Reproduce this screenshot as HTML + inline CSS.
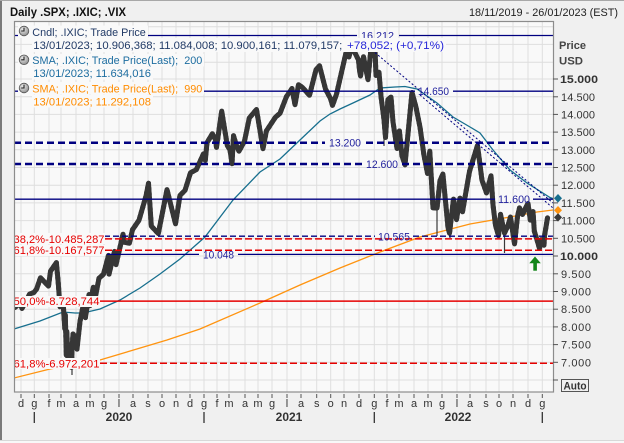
<!DOCTYPE html>
<html><head><meta charset="utf-8"><style>
html,body{margin:0;padding:0;background:#f0f0f0;}
svg{display:block;font-family:"Liberation Sans",sans-serif;}
text{white-space:pre;}
</style></head><body>
<svg width="624" height="443" viewBox="0 0 624 443" xmlns="http://www.w3.org/2000/svg">
<defs>
<clipPath id="pc"><rect x="15" y="22" width="538" height="370"/></clipPath>
<radialGradient id="ig" cx="0.4" cy="0.35" r="0.7"><stop offset="0" stop-color="#eeeeee"/><stop offset="1" stop-color="#8a8a8a"/></radialGradient>
</defs>
<rect x="0" y="0" width="624" height="443" fill="#f0f0f0"/>
<rect x="0" y="440" width="624" height="3" fill="#f8f8f8"/>
<line x1="0" y1="440.5" x2="624" y2="440.5" stroke="#d8d8d8"/>
<line x1="1" y1="0" x2="1" y2="440" stroke="#7a7a7a" stroke-width="2"/>
<line x1="0" y1="0.5" x2="624" y2="0.5" stroke="#a8a8a8"/>

<text x="10" y="16" font-size="11.5" font-weight="bold" fill="#111" textLength="116" lengthAdjust="spacingAndGlyphs">Daily .SPX; .IXIC; .VIX</text>
<text x="469" y="16" font-size="11" fill="#222" textLength="149" lengthAdjust="spacingAndGlyphs">18/11/2019 - 26/01/2023 (EST)</text>

<rect x="14.5" y="21.5" width="539" height="370.5" fill="#f9f9f9"/>

<g clip-path="url(#pc)">
<g stroke="#dedede" stroke-width="1">
<line x1="21" y1="22" x2="21" y2="392"/><line x1="34.3" y1="22" x2="34.3" y2="392"/><line x1="49" y1="22" x2="49" y2="392"/><line x1="61" y1="22" x2="61" y2="392"/><line x1="76" y1="22" x2="76" y2="392"/><line x1="90" y1="22" x2="90" y2="392"/><line x1="104" y1="22" x2="104" y2="392"/><line x1="119" y1="22" x2="119" y2="392"/><line x1="133" y1="22" x2="133" y2="392"/><line x1="148" y1="22" x2="148" y2="392"/><line x1="162" y1="22" x2="162" y2="392"/><line x1="176" y1="22" x2="176" y2="392"/><line x1="190" y1="22" x2="190" y2="392"/><line x1="204" y1="22" x2="204" y2="392"/><line x1="217" y1="22" x2="217" y2="392"/><line x1="229" y1="22" x2="229" y2="392"/><line x1="245" y1="22" x2="245" y2="392"/><line x1="258" y1="22" x2="258" y2="392"/><line x1="272" y1="22" x2="272" y2="392"/><line x1="287" y1="22" x2="287" y2="392"/><line x1="301" y1="22" x2="301" y2="392"/><line x1="316.7" y1="22" x2="316.7" y2="392"/><line x1="330.7" y1="22" x2="330.7" y2="392"/><line x1="344" y1="22" x2="344" y2="392"/><line x1="359" y1="22" x2="359" y2="392"/><line x1="374.3" y1="22" x2="374.3" y2="392"/><line x1="387" y1="22" x2="387" y2="392"/><line x1="399" y1="22" x2="399" y2="392"/><line x1="414" y1="22" x2="414" y2="392"/><line x1="428" y1="22" x2="428" y2="392"/><line x1="442" y1="22" x2="442" y2="392"/><line x1="457" y1="22" x2="457" y2="392"/><line x1="470" y1="22" x2="470" y2="392"/><line x1="486" y1="22" x2="486" y2="392"/><line x1="499" y1="22" x2="499" y2="392"/><line x1="513" y1="22" x2="513" y2="392"/><line x1="528" y1="22" x2="528" y2="392"/><line x1="542.3" y1="22" x2="542.3" y2="392"/>
<line x1="15" y1="26.8" x2="553" y2="26.8"/><line x1="15" y1="44.4" x2="553" y2="44.4"/><line x1="15" y1="62.2" x2="553" y2="62.2"/><line x1="15" y1="79" x2="553" y2="79"/><line x1="15" y1="96.8" x2="553" y2="96.8"/><line x1="15" y1="114.4" x2="553" y2="114.4"/><line x1="15" y1="132.1" x2="553" y2="132.1"/><line x1="15" y1="149.8" x2="553" y2="149.8"/><line x1="15" y1="167.5" x2="553" y2="167.5"/><line x1="15" y1="185.2" x2="553" y2="185.2"/><line x1="15" y1="202.9" x2="553" y2="202.9"/><line x1="15" y1="220.6" x2="553" y2="220.6"/><line x1="15" y1="238.3" x2="553" y2="238.3"/><line x1="15" y1="256" x2="553" y2="256"/><line x1="15" y1="273.8" x2="553" y2="273.8"/><line x1="15" y1="291.5" x2="553" y2="291.5"/><line x1="15" y1="309.2" x2="553" y2="309.2"/><line x1="15" y1="326.9" x2="553" y2="326.9"/><line x1="15" y1="344.6" x2="553" y2="344.6"/><line x1="15" y1="362.3" x2="553" y2="362.3"/><line x1="15" y1="380" x2="553" y2="380"/>
</g>

<!-- SMA 990 -->
<polyline fill="none" stroke="#ff9410" stroke-width="1.3" points="14,378 50,369 100,360 167,340 200,329 260,303 300,285 340,268 380,252 420,237 470,224 510,217 537,212 553,210"/>
<!-- SMA 200 -->
<polyline fill="none" stroke="#176f8e" stroke-width="1.3" points="14,329 40,321 63,312 75,313 83,313 100,309 120,300 140,288 160,274 180,259 205,237 233,200 260,172 280,159 300,140 320,121 330,114 340,109 353,103 370,95 380,88 395,87 405,86.5 417,89 437,103 453,117 470,127 480,133 493,150 510,170 527,183 550,197.5 553,198.5"/>

<!-- candles approximation -->
<polyline id="px" fill="none" stroke="#363636" stroke-width="5" stroke-linejoin="round" stroke-linecap="round" points="15,307.4 18.7,304 21.5,306.8 22,308.4 26,301.5 29.6,294.1 34,292.4 36.6,289 40.5,277.7 43,280.4 48.5,286.1 50.5,271.2 56.4,262.6 58.3,283.7 60,306.8 62,302.7 63.4,306.5 64.8,328.7 65.3,314.7 66.3,355.2 66.8,331.3 68.3,365.7 69.3,362.7 70.2,366.6 71.6,367.3 72.1,347.5 73,334 75.5,337.5 77,349.1 80,321.5 83.5,303.9 85.4,317.6 89,294.5 90,305.5 93.3,287.2 95.5,296.3 99,278.2 103.5,274.2 108.5,255.4 109,274.1 114.5,251.4 116,264.7 123,234.2 124.4,242.3 129.4,243.2 132.5,229.7 139,220.2 146,196 148.5,183.3 151.3,226.1 158.3,233.6 167,189.6 175.5,223.8 180,195.4 185,190.4 190.5,172.7 196.3,169.7 203.5,153.8 205.3,160.5 207,142.7 212.4,133.7 215.6,140.2 216.5,147.4 221.7,111.1 227.3,145.6 230,149.9 232,163.7 233.5,135.7 236.5,145.7 239,151.2 244.5,141.1 249.3,118 256.5,109.5 263,148.7 266.4,130.9 275.5,117.1 280,113.3 286.5,96.5 292,88.5 295,104.7 298.5,84.7 302.5,87.5 309.5,95.3 316,69.8 319.5,65.8 325.5,89.1 330.5,98.6 332.5,105.4 336.5,94.2 344,61.4 348,44.2 349,57 352.5,41.6 353,48.8 358.5,60 359.5,70 360.5,76 363.5,56.7 368,79.7 371,48.1 374,56.1 375,49.5 376,75.4 379,72.3 381,96.4 384,119.5 385.5,137.4 387.9,99.6 391,97.1 393,121.9 397,148.5 399.4,131 402,155.9 405,164.7 412,92.5 416,107.2 420,127.1 424,155.5 427.5,173.4 429.8,151.1 433,207.8 437,208.1 440,180.6 442.9,174 448,227.4 449.5,233.2 453.5,199.1 456.5,219.6 460,198.2 462.5,211.8 469.5,171.4 477.5,145.3 482,180.3 486.5,192.9 491,175.8 493,204.8 495.5,225.3 498.5,235.7 500.5,214.4 504.5,233.1 508,225.6 510.5,217 514.5,243.9 517.5,216.5 519.5,207.9 522.5,214.5 527.5,204.1 528,203.6 530.3,220.1 533,211.6 534.3,231.1 536.8,239.2 539.5,248.5 541,239.6 543,242.4 544,245.3 544.5,235.9 547.5,217.9"/>
<use href="#px" stroke="#9a9a9a" stroke-width="0.8" stroke-dasharray="1.5,3.5" fill="none" style="stroke:#9a9a9a;stroke-width:0.8"/>
<g stroke="#3a3a3a" stroke-width="1.2">
<line x1="72" y1="355" x2="72" y2="375"/><line x1="384" y1="120" x2="384" y2="146"/><line x1="437" y1="205" x2="437" y2="236"/><line x1="504.5" y1="230" x2="504.5" y2="253"/><line x1="450" y1="230" x2="450" y2="238"/>
</g>

<!-- navy horizontal lines -->
<g stroke="#000080" stroke-width="1.3" fill="none">
<line x1="14" y1="35.5" x2="357" y2="35.5"/><line x1="399" y1="35.5" x2="553" y2="35.5"/>
<line x1="14" y1="91.2" x2="415" y2="91.2"/><line x1="453" y1="91.2" x2="553" y2="91.2"/>
<line x1="14" y1="199.2" x2="495" y2="199.2"/><line x1="533" y1="199.2" x2="553" y2="199.2"/>
<line x1="107" y1="254.4" x2="199" y2="254.4"/><line x1="238" y1="254.4" x2="553" y2="254.4"/>
</g>
<g stroke="#000080" stroke-width="2.5" stroke-dasharray="7,4" fill="none">
<line x1="14" y1="142.7" x2="325" y2="142.7"/><line x1="366" y1="142.7" x2="553" y2="142.7"/>
<line x1="14" y1="164" x2="362" y2="164"/><line x1="402" y1="164" x2="553" y2="164"/>
</g>
<g stroke="#000080" stroke-width="1.4" stroke-dasharray="6,3" fill="none">
<line x1="14" y1="236.2" x2="375" y2="236.2"/><line x1="413" y1="236.2" x2="553" y2="236.2"/>
</g>
<!-- trend dotted lines -->
<g stroke="#000080" stroke-width="1" stroke-dasharray="2,2" fill="none">
<line x1="372" y1="50" x2="553" y2="203"/>
<line x1="420" y1="95" x2="553" y2="208"/>
</g>

<!-- red fib lines -->
<g stroke="#e60000" stroke-width="1.5" fill="none">
<line x1="105" y1="238.9" x2="553" y2="238.9" stroke-dasharray="7,3"/>
<line x1="105" y1="250.3" x2="553" y2="250.3" stroke-dasharray="7,3"/>
<line x1="100" y1="301.1" x2="553" y2="301.1"/>
<line x1="100" y1="363.2" x2="553" y2="363.2" stroke-dasharray="7,3"/>
</g>
<g fill="#f9f9f9">
<rect x="14" y="233" width="91" height="11"/>
<rect x="14" y="245" width="91" height="11"/>
<rect x="14" y="296" width="86" height="11"/>
<rect x="14" y="358" width="86" height="11"/>
</g>
<g fill="#e60000" font-size="11">
<text x="13.5" y="242.8" textLength="91" lengthAdjust="spacingAndGlyphs">38,2%-10.485,287</text>
<text x="13.5" y="254.2" textLength="91" lengthAdjust="spacingAndGlyphs">61,8%-10.167,577</text>
<text x="13.5" y="305.2" textLength="86" lengthAdjust="spacingAndGlyphs">50,0%-8.728,744</text>
<text x="13.5" y="367.5" textLength="86" lengthAdjust="spacingAndGlyphs">61,8%-6.972,201</text>
</g>

<!-- navy labels -->
<g fill="#1f1f9c" font-size="11">
<text x="361" y="39.5" textLength="33" lengthAdjust="spacingAndGlyphs">16.212</text>
<text x="418" y="95.2" textLength="31" lengthAdjust="spacingAndGlyphs">14.650</text>
<text x="329" y="146.7" textLength="32" lengthAdjust="spacingAndGlyphs">13.200</text>
<text x="366" y="168" textLength="32" lengthAdjust="spacingAndGlyphs">12.600</text>
<text x="498" y="203.2" textLength="32" lengthAdjust="spacingAndGlyphs">11.600</text>
<text x="378" y="240.5" textLength="32" lengthAdjust="spacingAndGlyphs">10.565</text>
<text x="203" y="258.5" textLength="31" lengthAdjust="spacingAndGlyphs">10.048</text>
</g>

<!-- legend -->
<g fill="#f9f9f9">
<rect x="18" y="25.5" width="130" height="12.5"/>
<rect x="32" y="38" width="414" height="14"/>
<rect x="18" y="54" width="186" height="12.5"/>
<rect x="32" y="67" width="121" height="12.5"/>
<rect x="18" y="82" width="186" height="12.5"/>
<rect x="32" y="95" width="121" height="12.5"/>
</g>
<g stroke="#555" stroke-width="0.8">
<circle cx="24" cy="31" r="4.8" fill="url(#ig)"/>
<circle cx="24" cy="59.8" r="4.8" fill="url(#ig)"/>
<circle cx="24" cy="88" r="4.8" fill="url(#ig)"/>
</g>
<g stroke="#222" stroke-width="1.1" fill="none">
<path d="M24,27.8 V31 H21.2"/><path d="M24,56.6 V59.8 H21.2"/><path d="M24,84.8 V88 H21.2"/>
</g>
<g font-size="11">
<text x="32.3" y="36" fill="#213a66" textLength="113.5" lengthAdjust="spacingAndGlyphs">Cndl; .IXIC; Trade Price</text>
<text x="33.3" y="49" fill="#213a66" textLength="309" lengthAdjust="spacingAndGlyphs">13/01/2023; 10.906,368; 11.084,008; 10.900,161; 11.079,157;</text>
<text x="347" y="49" fill="#2525d8" textLength="97" lengthAdjust="spacingAndGlyphs">+78,052; (+0,71%)</text>
<text x="32.3" y="64" fill="#1d6da0" textLength="170" lengthAdjust="spacingAndGlyphs">SMA; .IXIC; Trade Price(Last);  200</text>
<text x="33.3" y="77" fill="#1d6da0" textLength="117.7" lengthAdjust="spacingAndGlyphs">13/01/2023; 11.634,016</text>
<text x="32.3" y="92.5" fill="#ff8c00" textLength="170" lengthAdjust="spacingAndGlyphs">SMA; .IXIC; Trade Price(Last);  990</text>
<text x="33.3" y="105.5" fill="#ff8c00" textLength="117.7" lengthAdjust="spacingAndGlyphs">13/01/2023; 11.292,108</text>
</g>

<!-- green arrow -->
<rect x="533.3" y="262" width="3.6" height="8.7" fill="#13861a"/>
<polygon points="529.3,263.3 540.8,263.3 535,256.5" fill="#13861a"/>
</g>

<rect x="14.5" y="21.5" width="539" height="370.5" fill="none" stroke="#8c8c8c" stroke-width="1.2"/>

<!-- right axis -->
<g stroke="#555" stroke-width="1">
<line x1="553" y1="79" x2="558" y2="79"/><line x1="553" y1="96.8" x2="558" y2="96.8"/><line x1="553" y1="114.4" x2="558" y2="114.4"/><line x1="553" y1="132.1" x2="558" y2="132.1"/><line x1="553" y1="149.8" x2="558" y2="149.8"/><line x1="553" y1="167.5" x2="558" y2="167.5"/><line x1="553" y1="185.2" x2="558" y2="185.2"/><line x1="553" y1="202.9" x2="558" y2="202.9"/><line x1="553" y1="220.6" x2="558" y2="220.6"/><line x1="553" y1="238.3" x2="558" y2="238.3"/><line x1="553" y1="256" x2="558" y2="256"/><line x1="553" y1="273.8" x2="558" y2="273.8"/><line x1="553" y1="291.5" x2="558" y2="291.5"/><line x1="553" y1="309.2" x2="558" y2="309.2"/><line x1="553" y1="326.9" x2="558" y2="326.9"/><line x1="553" y1="344.6" x2="558" y2="344.6"/><line x1="553" y1="362.3" x2="558" y2="362.3"/><line x1="553" y1="380" x2="558" y2="380"/>
</g>
<g font-size="11" fill="#333">
<text x="559" y="49" font-weight="bold" fill="#444" textLength="27" lengthAdjust="spacingAndGlyphs">Price</text>
<text x="559" y="64.3" font-weight="bold" fill="#444" textLength="24" lengthAdjust="spacingAndGlyphs">USD</text>
<text x="560" y="83" font-weight="bold" textLength="38" lengthAdjust="spacingAndGlyphs">15.000</text>
<text x="561" y="100.8" textLength="34">14.500</text>
<text x="561" y="118.4" textLength="34">14.000</text>
<text x="561" y="136.1" textLength="34">13.500</text>
<text x="561" y="153.8" textLength="34">13.000</text>
<text x="561" y="171.5" textLength="34">12.500</text>
<text x="561" y="189.2" textLength="34">12.000</text>
<text x="561" y="206.9" textLength="34">11.500</text>
<text x="561" y="224.6" textLength="34">11.000</text>
<text x="561" y="242.3" textLength="34">10.500</text>
<text x="560" y="260" font-weight="bold" textLength="38" lengthAdjust="spacingAndGlyphs">10.000</text>
<text x="561" y="277.8" textLength="30">9.500</text>
<text x="561" y="295.5" textLength="30">9.000</text>
<text x="561" y="313.2" textLength="30">8.500</text>
<text x="561" y="330.9" textLength="30">8.000</text>
<text x="561" y="348.6" textLength="30">7.500</text>
<text x="561" y="366.3" textLength="30">7.000</text>
</g>
<rect x="561.5" y="379.5" width="27" height="12" fill="none" stroke="#555" stroke-width="1"/>
<text x="563.5" y="389.5" font-size="11" font-weight="bold" fill="#333" textLength="23" lengthAdjust="spacingAndGlyphs">Auto</text>

<!-- right markers -->
<polygon points="558,194 562,198.3 558,202.6 554,198.3" fill="#176f8e"/>
<polygon points="558,206 562,210.2 558,214.4 554,210.2" fill="#ff9410"/>
<polygon points="558,213.2 562,217.4 558,221.6 554,217.4" fill="#3a3a3a"/>

<!-- bottom axis -->
<g stroke="#555" stroke-width="1">
<line x1="21" y1="394" x2="21" y2="398"/><line x1="34.3" y1="394" x2="34.3" y2="398"/><line x1="49" y1="394" x2="49" y2="398"/><line x1="61" y1="394" x2="61" y2="398"/><line x1="76" y1="394" x2="76" y2="398"/><line x1="90" y1="394" x2="90" y2="398"/><line x1="104" y1="394" x2="104" y2="398"/><line x1="119" y1="394" x2="119" y2="398"/><line x1="133" y1="394" x2="133" y2="398"/><line x1="148" y1="394" x2="148" y2="398"/><line x1="162" y1="394" x2="162" y2="398"/><line x1="176" y1="394" x2="176" y2="398"/><line x1="190" y1="394" x2="190" y2="398"/><line x1="204" y1="394" x2="204" y2="398"/><line x1="217" y1="394" x2="217" y2="398"/><line x1="229" y1="394" x2="229" y2="398"/><line x1="245" y1="394" x2="245" y2="398"/><line x1="258" y1="394" x2="258" y2="398"/><line x1="272" y1="394" x2="272" y2="398"/><line x1="287" y1="394" x2="287" y2="398"/><line x1="301" y1="394" x2="301" y2="398"/><line x1="316.7" y1="394" x2="316.7" y2="398"/><line x1="330.7" y1="394" x2="330.7" y2="398"/><line x1="344" y1="394" x2="344" y2="398"/><line x1="359" y1="394" x2="359" y2="398"/><line x1="374.3" y1="394" x2="374.3" y2="398"/><line x1="387" y1="394" x2="387" y2="398"/><line x1="399" y1="394" x2="399" y2="398"/><line x1="414" y1="394" x2="414" y2="398"/><line x1="428" y1="394" x2="428" y2="398"/><line x1="442" y1="394" x2="442" y2="398"/><line x1="457" y1="394" x2="457" y2="398"/><line x1="470" y1="394" x2="470" y2="398"/><line x1="486" y1="394" x2="486" y2="398"/><line x1="499" y1="394" x2="499" y2="398"/><line x1="513" y1="394" x2="513" y2="398"/><line x1="528" y1="394" x2="528" y2="398"/><line x1="542.3" y1="394" x2="542.3" y2="398"/>
</g>
<g font-size="11" fill="#333" text-anchor="middle">
<text x="21" y="407">d</text><text x="34.3" y="407">g</text><text x="49" y="407">f</text><text x="61" y="407">m</text><text x="76" y="407">a</text><text x="90" y="407">m</text><text x="104" y="407">g</text><text x="119" y="407">l</text><text x="133" y="407">a</text><text x="148" y="407">s</text><text x="162" y="407">o</text><text x="176" y="407">n</text><text x="190" y="407">d</text><text x="204" y="407">g</text><text x="217" y="407">f</text><text x="229" y="407">m</text><text x="245" y="407">a</text><text x="258" y="407">m</text><text x="272" y="407">g</text><text x="287" y="407">l</text><text x="301" y="407">a</text><text x="316.7" y="407">s</text><text x="330.7" y="407">o</text><text x="344" y="407">n</text><text x="359" y="407">d</text><text x="374.3" y="407">g</text><text x="387" y="407">f</text><text x="399" y="407">m</text><text x="414" y="407">a</text><text x="428" y="407">m</text><text x="442" y="407">g</text><text x="457" y="407">l</text><text x="470" y="407">a</text><text x="486" y="407">s</text><text x="499" y="407">o</text><text x="513" y="407">n</text><text x="528" y="407">d</text><text x="542.3" y="407">g</text>
</g>
<g stroke="#333" stroke-width="1.3">
<line x1="34.3" y1="412" x2="34.3" y2="423"/><line x1="204" y1="412" x2="204" y2="423"/><line x1="374.3" y1="412" x2="374.3" y2="423"/><line x1="542.3" y1="412" x2="542.3" y2="423"/>
</g>
<g font-size="12" font-weight="bold" fill="#333" text-anchor="middle">
<text x="119" y="421">2020</text><text x="289" y="421">2021</text><text x="458" y="421">2022</text>
</g>
</svg>
</body></html>
